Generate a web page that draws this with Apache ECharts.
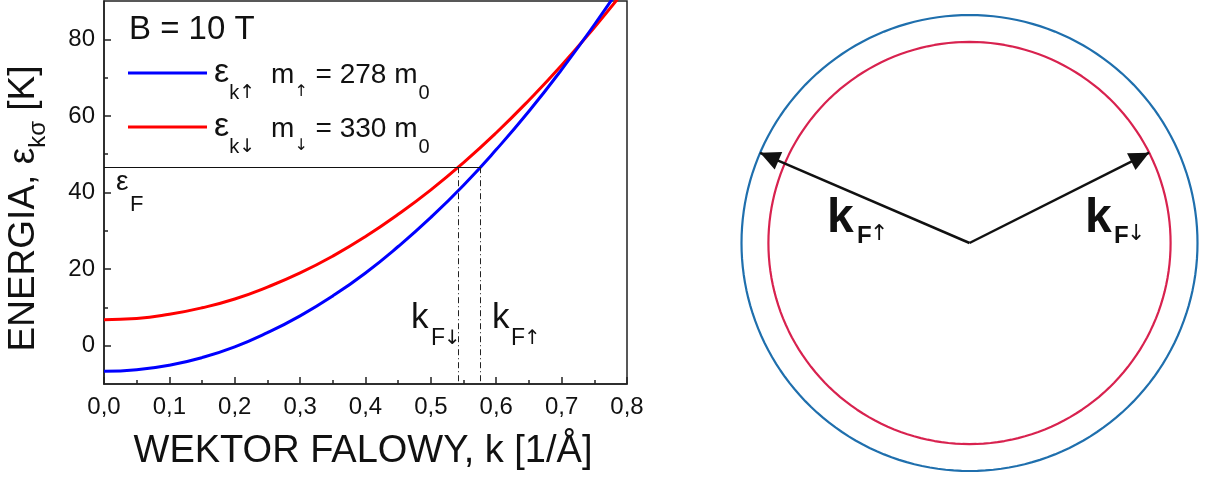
<!DOCTYPE html>
<html>
<head>
<meta charset="utf-8">
<script src="https://cdn.jsdelivr.net/npm/echarts@6/dist/echarts.min.js"></script>
<style>
  html, body { margin: 0; padding: 0; background: #fff; }
  #chart { width: 1205px; height: 479px; }
</style>
</head>
<body>
<div id="chart"></div>
<script>
// Wave vector k [1/Å]
const kValues = [0, 0.05, 0.1, 0.15, 0.2, 0.25, 0.3, 0.35, 0.4, 0.45, 0.5, 0.55, 0.6, 0.65, 0.7, 0.75, 0.8];
// Band energy for spin up, m = 278 m0 [K]
const energyUp = [-6.7, -6.3, -5.1, -3.1, -0.3, 3.4, 7.8, 13.0, 19.0, 25.9, 33.5, 41.9, 51.2, 61.2, 72.1, 83.8, 96.2];
// Band energy for spin down, m = 330 m0 [K]
const energyDown = [6.8, 7.1, 8.2, 9.9, 12.2, 15.3, 19.0, 23.4, 28.5, 34.3, 40.7, 47.8, 55.6, 64.1, 73.2, 83.1, 93.6];
// Fermi level and Fermi wave vectors
const fermiEnergy = 46.6;
const fermiWaveVectorDown = 0.5415;
const fermiWaveVectorUp = 0.5756;
// Axis ticks
const yMajorTicks = [0, 20, 40, 60, 80];
const yMinorTicks = [10, 30, 50, 70];
// Fermi circles of the sketch (relative radius) and arrow directions [deg]
const circleRadiusUp = 1.0;
const circleRadiusDown = 0.882;
const arrowAngleUp = 156.7;
const arrowAngleDown = 26.7;

const FONT = '"Liberation Sans", Arial, sans-serif';
const ARROW_FONT = '"DejaVu Sans", sans-serif';
const INK = '#111';
const BLUE = '#0000ff';
const RED = '#ff0000';

function pairs(xs, ys) { return xs.map((x, i) => [x, ys[i]]); }

// closed outline of a circle of radius r in the polar system
function circleData(r) {
  const pts = [];
  for (let a = 0; a <= 360; a += 2) pts.push([r, a]);
  return pts;
}

// radius vector from the centre with a filled arrow head at its tip
function arrowData(r, angle) {
  const rad = angle * Math.PI / 180;
  const headLen = 20;
  return [
    { value: [0, angle], symbol: 'none' },
    {
      value: [r, angle],
      symbol: 'triangle',
      symbolSize: [19, headLen],
      symbolRotate: angle - 90,
      symbolOffset: [-Math.cos(rad) * headLen / 2, Math.sin(rad) * headLen / 2]
    }
  ];
}

function txt(x, y, text, size, style) {
  return {
    type: 'text', x: x, y: y, silent: true,
    style: Object.assign({
      text: text, fontSize: size, fontFamily: FONT, fill: INK,
      align: 'left', verticalAlign: 'middle'
    }, style || {})
  };
}

const chart = echarts.init(document.getElementById('chart'), null, { renderer: 'canvas' });

const legendRich = {
  e: { fontSize: 34, fontFamily: FONT, color: INK, padding: [0, 0, 0, 2] },
  s: { fontSize: 20, fontFamily: FONT, color: INK, padding: [40, 0, 0, 0] },
  sr: { fontSize: 19, fontFamily: ARROW_FONT, color: INK, padding: [40, 0, 0, 0] },
  m: { fontSize: 28, fontFamily: FONT, color: INK, padding: [4, 0, 0, 16] },
  sa: { fontSize: 16, fontFamily: ARROW_FONT, color: INK, padding: [38, 0, 0, 0] },
  t: { fontSize: 28, fontFamily: FONT, color: INK, padding: [4, 0, 0, 0] },
  z: { fontSize: 20, fontFamily: FONT, color: INK, padding: [40, 0, 0, 1] }
};

const option = {
  animation: false,
  backgroundColor: '#fff',
  grid: {
    left: 104, top: 1, width: 523, height: 383,
    show: true, borderColor: '#222', borderWidth: 1.5, backgroundColor: 'transparent'
  },
  legend: {
    orient: 'vertical', left: 128, top: 56, padding: 0,
    itemWidth: 79, itemHeight: 3, itemGap: 7, icon: 'rect',
    selectedMode: false,
    data: ['up', 'down'],
    formatter: function (name) {
      return name === 'up'
        ? '{e|ε}{s|k}{sr|↑}{m|m}{sa|↑}{t| = 278 m}{z|0}'
        : '{e|ε}{s|k}{sr|↓}{m|m}{sa|↓}{t| = 330 m}{z|0}';
    },
    textStyle: { color: INK, fontFamily: FONT, rich: legendRich }
  },
  xAxis: {
    type: 'value', min: 0, max: 0.8, interval: 0.1,
    axisLine: { show: true, onZero: false, lineStyle: { color: '#222', width: 1.5 } },
    axisTick: { show: true, inside: true, length: 7, lineStyle: { color: '#222', width: 1.5 } },
    minorTick: { show: true, splitNumber: 2, length: 4, lineStyle: { color: '#222', width: 1.5 } },
    splitLine: { show: false },
    axisLabel: {
      fontSize: 24, fontFamily: FONT, color: INK, margin: 11,
      formatter: v => v.toFixed(1).replace('.', ',')
    }
  },
  yAxis: [
    {
      type: 'value', min: -10, max: 90,
      axisLine: { show: true, onZero: false, lineStyle: { color: '#222', width: 1.5 } },
      axisTick: { show: true, inside: true, length: 7, customValues: yMajorTicks, lineStyle: { color: '#222', width: 1.5 } },
      axisLabel: { fontSize: 24, fontFamily: FONT, color: INK, margin: 9, customValues: yMajorTicks },
      splitLine: { show: false }
    },
    {
      type: 'value', min: -10, max: 90, position: 'left',
      axisLine: { show: false, onZero: false },
      axisTick: { show: true, inside: true, length: 4, customValues: yMinorTicks, lineStyle: { color: '#222', width: 1.5 } },
      axisLabel: { show: false },
      splitLine: { show: false }
    }
  ],
  // radius axis runs a little past the outer circle so its stroke is not clipped
  polar: { center: [969.5, 243], radius: 239.4 },
  angleAxis: { type: 'value', min: 0, max: 360, startAngle: 0, clockwise: false, show: false },
  radiusAxis: { type: 'value', min: 0, max: 1.05, show: false },
  series: [
    {
      name: 'down', type: 'line', xAxisIndex: 0, yAxisIndex: 0,
      data: pairs(kValues, energyDown), smooth: true, symbol: 'none', clip: true, z: 3,
      lineStyle: { color: RED, width: 3 }, itemStyle: { color: RED }
    },
    {
      name: 'up', type: 'line', xAxisIndex: 0, yAxisIndex: 0,
      data: pairs(kValues, energyUp), smooth: true, symbol: 'none', clip: true, z: 4,
      lineStyle: { color: BLUE, width: 3 }, itemStyle: { color: BLUE },
      markLine: {
        silent: true, symbol: ['none', 'none'], label: { show: false }, animation: false,
        lineStyle: { color: '#111', width: 1.2, type: 'solid' },
        emphasis: { disabled: true },
        data: [
          [{ coord: [0, fermiEnergy] }, { coord: [fermiWaveVectorUp, fermiEnergy] }],
          [{ coord: [fermiWaveVectorDown, fermiEnergy], lineStyle: { type: [6, 3, 1, 3], width: 1, color: '#222' } },
           { coord: [fermiWaveVectorDown, -10] }],
          [{ coord: [fermiWaveVectorUp, fermiEnergy], lineStyle: { type: [6, 3, 1, 3], width: 1, color: '#222' } },
           { coord: [fermiWaveVectorUp, -10] }]
        ]
      }
    },
    {
      name: 'circle up', type: 'line', coordinateSystem: 'polar', silent: true,
      data: circleData(circleRadiusUp), symbol: 'none',
      lineStyle: { color: '#1f6fad', width: 2.2 }
    },
    {
      name: 'circle down', type: 'line', coordinateSystem: 'polar', silent: true,
      data: circleData(circleRadiusDown), symbol: 'none',
      lineStyle: { color: '#d8224f', width: 2.2 }
    },
    {
      name: 'kF up', type: 'line', coordinateSystem: 'polar', silent: true, z: 5,
      data: arrowData(circleRadiusUp, arrowAngleUp), showSymbol: true,
      lineStyle: { color: INK, width: 2.5 }, itemStyle: { color: INK }
    },
    {
      name: 'kF down', type: 'line', coordinateSystem: 'polar', silent: true, z: 5,
      data: arrowData(circleRadiusDown, arrowAngleDown), showSymbol: true,
      lineStyle: { color: INK, width: 2.5 }, itemStyle: { color: INK }
    }
  ],
  graphic: [
    // axis titles
    {
      type: 'text', x: 24, y: 208.5, rotation: Math.PI / 2, silent: true,
      style: {
        text: '{a|ENERGIA, ε}{s|kσ}{a| [K]}',
        align: 'center', verticalAlign: 'middle', fill: INK,
        rich: {
          a: { fontSize: 37, fontFamily: FONT, fill: INK },
          s: { fontSize: 24, fontFamily: FONT, fill: INK, padding: [28, 0, 0, 0] }
        }
      }
    },
    txt(363, 451.5, 'WEKTOR FALOWY, k [1/Å]', 38, { align: 'center' }),
    // annotations inside the plot
    txt(129, 30, 'B = 10 T', 33),
    txt(116, 182, 'ε', 28),
    txt(130, 205, 'F', 22),
    txt(411, 318.5, 'k', 35),
    txt(431, 338.5, 'F', 23),
    txt(444, 338.5, '↓', 20, { fontFamily: ARROW_FONT }),
    txt(492, 318.5, 'k', 35),
    txt(511, 338.5, 'F', 23),
    txt(524, 338.5, '↑', 20, { fontFamily: ARROW_FONT }),
    // labels of the Fermi circles
    txt(827, 218.5, 'k', 48, { fontWeight: 'bold' }),
    txt(857, 236, 'F', 24, { fontWeight: 'bold' }),
    txt(870, 234.5, '↑', 22, { fontFamily: ARROW_FONT }),
    txt(1085, 218.5, 'k', 48, { fontWeight: 'bold' }),
    txt(1114, 236, 'F', 24, { fontWeight: 'bold' }),
    txt(1127, 234.5, '↓', 22, { fontFamily: ARROW_FONT })
  ]
};

chart.setOption(option);
</script>
</body>
</html>
